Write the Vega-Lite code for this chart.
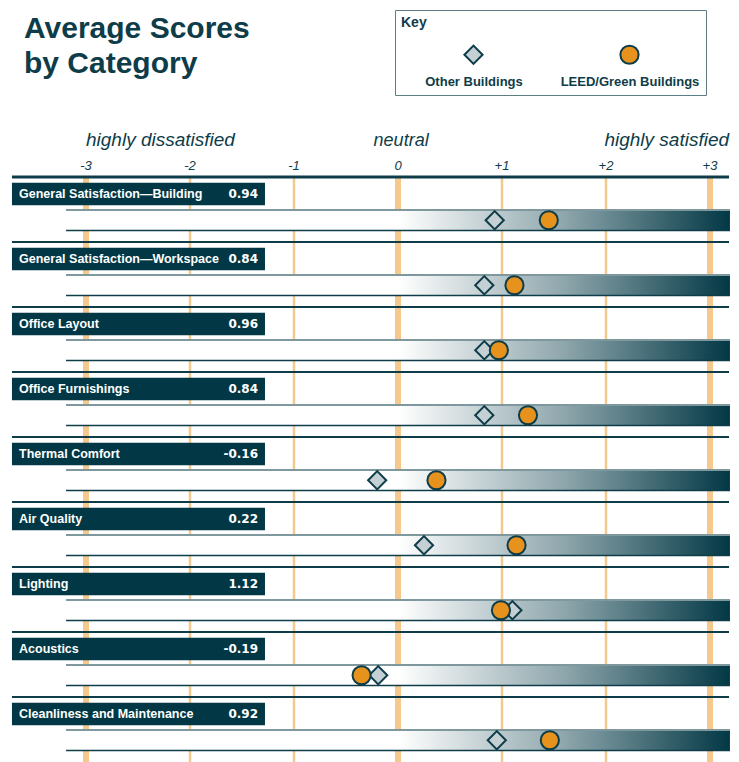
{
  "$schema": "https://vega.github.io/schema/vega-lite/v6.json",
  "width": 739,
  "height": 585,
  "autosize": {"type": "none"},
  "padding": {"top": 177, "left": 0, "right": 0, "bottom": 0},
  "background": "white",
  "title": {
    "text": ["Average Scores", "by Category"],
    "anchor": "start",
    "frame": "group",
    "dx": 24,
    "offset": -69,
    "font": "Liberation Sans",
    "fontSize": 30,
    "fontWeight": "bold",
    "color": "#0e3c48",
    "lineHeight": 35
  },
  "config": {"view": {"stroke": null}, "font": "Liberation Sans"},
  "data": {
    "values": [
      {"category": "General Satisfaction—Building", "value": 0.94, "Other Buildings": 0.93, "LEED/Green Buildings": 1.45},
      {"category": "General Satisfaction—Workspace", "value": 0.84, "Other Buildings": 0.83, "LEED/Green Buildings": 1.12},
      {"category": "Office Layout", "value": 0.96, "Other Buildings": 0.83, "LEED/Green Buildings": 0.97},
      {"category": "Office Furnishings", "value": 0.84, "Other Buildings": 0.83, "LEED/Green Buildings": 1.25},
      {"category": "Thermal Comfort", "value": -0.16, "Other Buildings": -0.2, "LEED/Green Buildings": 0.37},
      {"category": "Air Quality", "value": 0.22, "Other Buildings": 0.25, "LEED/Green Buildings": 1.14},
      {"category": "Lighting", "value": 1.12, "Other Buildings": 1.1, "LEED/Green Buildings": 0.99},
      {"category": "Acoustics", "value": -0.19, "Other Buildings": -0.19, "LEED/Green Buildings": -0.35},
      {"category": "Cleanliness and Maintenance", "value": 0.92, "Other Buildings": 0.95, "LEED/Green Buildings": 1.46}
    ]
  },
  "datasets": {
    "ticks": [
      {"t": -3, "label": "-3"}, {"t": -2, "label": "-2"}, {"t": -1, "label": "-1"}, {"t": 0, "label": "0"},
      {"t": 1, "label": "+1"}, {"t": 2, "label": "+2"}, {"t": 3, "label": "+3"}
    ]
  },
  "layer": [
    {
      "data": {"name": "ticks"},
      "mark": {"type": "rule", "color": "#f5c98d"},
      "encoding": {
        "x": {
          "field": "t", "type": "quantitative",
          "scale": {"domain": [-3.827, 3.279], "nice": false, "zero": false},
          "axis": null
        },
        "strokeWidth": {"condition": {"test": "datum.t % 3 == 0", "value": 6}, "value": 2.5}
      }
    },
    {
      "data": {"name": "ticks"},
      "mark": {"type": "text", "align": "center", "baseline": "alphabetic", "yOffset": -39.5,
               "font": "Liberation Sans", "fontStyle": "italic", "fontSize": 13, "fill": "#0e3c48"},
      "encoding": {
        "x": {"field": "t", "type": "quantitative", "axis": null},
        "y": {"datum": "General Satisfaction—Building", "type": "nominal", "axis": null},
        "text": {"field": "label", "type": "nominal"}
      }
    },
    {
      "mark": {"type": "rule", "color": "#0e3c48"},
      "encoding": {
        "x": {"datum": -3.712, "type": "quantitative", "axis": null},
        "x2": {"datum": 3.183},
        "y": {"field": "category", "type": "nominal", "sort": null, "bandPosition": 0, "axis": null,
              "scale": {"type": "band", "paddingInner": 0, "paddingOuter": 0}},
        "strokeWidth": {"condition": {"test": "datum.category == 'General Satisfaction—Building'", "value": 3}, "value": 2}
      }
    },
    {
      "mark": {"type": "bar", "orient": "horizontal", "height": 22.5, "yOffset": -15.5, "fill": "#023845"},
      "encoding": {
        "x": {"datum": -3.712, "type": "quantitative", "axis": null},
        "x2": {"datum": -1.279},
        "y": {"field": "category", "type": "nominal", "sort": null, "axis": null}
      }
    },
    {
      "mark": {"type": "text", "align": "left", "baseline": "middle", "yOffset": -15.5,
               "font": "Liberation Sans", "fontWeight": "bold", "fontSize": 12.5, "fill": "#ffffff"},
      "encoding": {
        "x": {"datum": -3.644, "type": "quantitative", "axis": null},
        "y": {"field": "category", "type": "nominal", "sort": null, "axis": null},
        "text": {"field": "category", "type": "nominal"}
      }
    },
    {
      "mark": {"type": "text", "align": "right", "baseline": "middle", "yOffset": -15.5,
               "font": "DejaVu Sans", "fontWeight": "bold", "fontSize": 12, "fill": "#ffffff"},
      "encoding": {
        "x": {"datum": -1.346, "type": "quantitative", "axis": null},
        "y": {"field": "category", "type": "nominal", "sort": null, "axis": null},
        "text": {"field": "value", "type": "nominal"}
      }
    },
    {
      "mark": {
        "type": "bar", "orient": "horizontal", "height": 20.5, "yOffset": 10.75,
        "fill": {
          "gradient": "linear", "x1": 0, "y1": 0, "x2": 1, "y2": 0,
          "stops": [
            {"offset": 0, "color": "#ffffff"},
            {"offset": 0.5, "color": "#ffffff"},
            {"offset": 0.75, "color": "#8ea6ac"},
            {"offset": 1, "color": "#023845"}
          ]
        }
      },
      "encoding": {
        "x": {"datum": -3.192, "type": "quantitative", "axis": null},
        "x2": {"datum": 3.192},
        "y": {"field": "category", "type": "nominal", "sort": null, "axis": null}
      }
    },
    {
      "mark": {"type": "rule", "color": "#7f989e", "strokeWidth": 2, "yOffset": 33},
      "encoding": {
        "x": {"datum": -3.192, "type": "quantitative", "axis": null},
        "x2": {"datum": 3.192},
        "y": {"field": "category", "type": "nominal", "sort": null, "bandPosition": 0, "axis": null}
      }
    },
    {
      "mark": {"type": "rule", "color": "#0e3c48", "strokeWidth": 1.5, "yOffset": 53.5},
      "encoding": {
        "x": {"datum": -3.192, "type": "quantitative", "axis": null},
        "x2": {"datum": 3.192},
        "y": {"field": "category", "type": "nominal", "sort": null, "bandPosition": 0, "axis": null}
      }
    },
    {
      "transform": [{"fold": ["Other Buildings", "LEED/Green Buildings"], "as": ["series", "score"]}],
      "mark": {"type": "point", "filled": true, "size": 330, "opacity": 1, "stroke": "#0e3c48", "strokeWidth": 2, "yOffset": 10.75},
      "encoding": {
        "x": {"field": "score", "type": "quantitative", "axis": null},
        "y": {"field": "category", "type": "nominal", "sort": null, "axis": null},
        "shape": {
          "field": "series", "type": "nominal",
          "scale": {"domain": ["Other Buildings", "LEED/Green Buildings"], "range": ["diamond", "circle"]},
          "legend": {
            "title": "Key", "orient": "none", "legendX": 395, "legendY": -167, "direction": "horizontal",
            "padding": 6, "strokeColor": "#5e7e86", "fillColor": "#ffffff",
            "titleFont": "Liberation Sans", "titleFontSize": 14, "titleFontWeight": "bold", "titleColor": "#0e3c48", "titlePadding": 14,
            "labelFont": "Liberation Sans", "labelFontSize": 13, "labelFontWeight": "bold", "labelColor": "#0e3c48",
            "labelAlign": "center", "labelOffset": -10, "symbolSize": 330, "symbolStrokeWidth": 2, "symbolStrokeColor": "#0e3c48",
            "symbolOffset": 62, "columnPadding": 34,
            "encoding": {
              "labels": {"dy": {"value": 27}},
              "symbols": {"stroke": {"value": "#0e3c48"}, "strokeWidth": {"value": 2}, "size": {"value": 330}}
            }
          }
        },
        "fill": {
          "field": "series", "type": "nominal",
          "scale": {"domain": ["Other Buildings", "LEED/Green Buildings"], "range": ["#c4d0d3", "#e8921e"]},
          "legend": {
            "title": "Key", "orient": "none", "legendX": 395, "legendY": -167, "direction": "horizontal",
            "padding": 6, "strokeColor": "#5e7e86", "fillColor": "#ffffff",
            "titleFont": "Liberation Sans", "titleFontSize": 14, "titleFontWeight": "bold", "titleColor": "#0e3c48", "titlePadding": 14,
            "labelFont": "Liberation Sans", "labelFontSize": 13, "labelFontWeight": "bold", "labelColor": "#0e3c48",
            "labelAlign": "center", "labelOffset": -10, "symbolSize": 330, "symbolStrokeWidth": 2, "symbolStrokeColor": "#0e3c48",
            "symbolOffset": 62, "columnPadding": 34,
            "encoding": {
              "labels": {"dy": {"value": 27}},
              "symbols": {"stroke": {"value": "#0e3c48"}, "strokeWidth": {"value": 2}, "size": {"value": 330}}
            }
          }
        }
      }
    },
    {
      "data": {"values": [{}]},
      "mark": {"type": "text", "align": "left", "baseline": "alphabetic", "yOffset": -63.5, "font": "Liberation Sans", "fontStyle": "italic", "fontSize": 19, "fill": "#0e3c48"},
      "encoding": {
        "x": {"datum": -3, "type": "quantitative", "axis": null},
        "y": {"datum": "General Satisfaction—Building", "type": "nominal", "axis": null},
        "text": {"value": "highly dissatisfied"}
      }
    },
    {
      "data": {"values": [{}]},
      "mark": {"type": "text", "align": "center", "baseline": "alphabetic", "yOffset": -63.5, "font": "Liberation Sans", "fontStyle": "italic", "fontSize": 18, "fill": "#0e3c48"},
      "encoding": {
        "x": {"datum": 0.03, "type": "quantitative", "axis": null},
        "y": {"datum": "General Satisfaction—Building", "type": "nominal", "axis": null},
        "text": {"value": "neutral"}
      }
    },
    {
      "data": {"values": [{}]},
      "mark": {"type": "text", "align": "right", "baseline": "alphabetic", "yOffset": -63.5, "font": "Liberation Sans", "fontStyle": "italic", "fontSize": 19, "fill": "#0e3c48"},
      "encoding": {
        "x": {"datum": 3.183, "type": "quantitative", "axis": null},
        "y": {"datum": "General Satisfaction—Building", "type": "nominal", "axis": null},
        "text": {"value": "highly satisfied"}
      }
    }
  ]
}
